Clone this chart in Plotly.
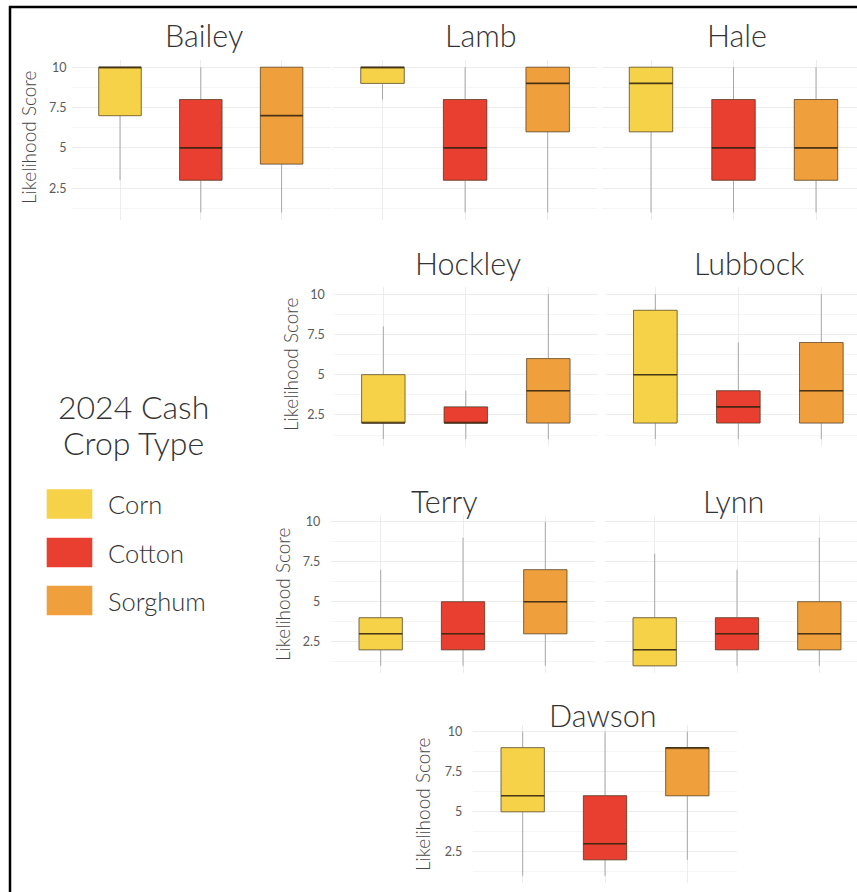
import plotly.graph_objects as go

# ---- data: likelihood score summaries per county and cash crop ----
counties = ["Bailey", "Lamb", "Hale", "Hockley", "Lubbock", "Terry", "Lynn", "Dawson"]
crops = ["Corn", "Cotton", "Sorghum"]

corn_low = [3, 8, 1, 1, 1, 1, 1, 1]
corn_q1 = [7, 9, 6, 2, 2, 2, 1, 5]
corn_med = [10, 10, 9, 2, 5, 3, 2, 6]
corn_q3 = [10, 10, 10, 5, 9, 4, 4, 9]
corn_high = [10, 10, 10, 8, 10, 7, 8, 10]

cotton_low = [1, 1, 1, 1, 1, 1, 1, 1]
cotton_q1 = [3, 3, 3, 2, 2, 2, 2, 2]
cotton_med = [5, 5, 5, 2, 3, 3, 3, 3]
cotton_q3 = [8, 8, 8, 3, 4, 5, 4, 6]
cotton_high = [10, 10, 10, 4, 7, 9, 7, 10]

sorghum_low = [1, 1, 1, 1, 1, 1, 1, 2]
sorghum_q1 = [4, 6, 3, 2, 2, 3, 2, 6]
sorghum_med = [7, 9, 5, 4, 4, 5, 3, 9]
sorghum_q3 = [10, 10, 8, 6, 7, 7, 5, 9]
sorghum_high = [10, 10, 10, 10, 10, 10, 9, 10]

y_tick_vals = [2.5, 5, 7.5, 10]
y_tick_text = ["2.5", "5", "7.5", "10"]
y_title = "Likelihood Score"
legend_title = ["2024 Cash", "Crop Type"]

stats = {
    "Corn": (corn_low, corn_q1, corn_med, corn_q3, corn_high),
    "Cotton": (cotton_low, cotton_q1, cotton_med, cotton_q3, cotton_high),
    "Sorghum": (sorghum_low, sorghum_q1, sorghum_med, sorghum_q3, sorghum_high),
}

# ---- styling ----
W, H = 857, 892
FONT = "Lato"
TEXT = "#333333"
fill = {"Corn": "#F5D248", "Cotton": "#E83F30", "Sorghum": "#EFA03C"}
WHISKER = "#a8a8a8"
OUTLINE = "rgba(70,50,20,0.55)"
MEDIAN = "rgba(50,35,15,0.8)"
GRID = "#ececec"
GRID_MINOR = "#f5f5f5"
Y_RANGE = [0.55, 10.45]

# panel geometry in pixels: first-category centre, category spacing, top, bottom
panel_geo = {
    "Bailey": (120.0, 80.8, 60.0, 219.7),
    "Lamb": (382.5, 82.6, 60.0, 219.7),
    "Hale": (651.0, 82.5, 60.0, 219.7),
    "Hockley": (383.3, 82.5, 287.0, 446.3),
    "Lubbock": (655.3, 83.0, 287.0, 446.3),
    "Terry": (380.7, 82.3, 514.5, 673.0),
    "Lynn": (654.7, 82.3, 514.5, 673.0),
    "Dawson": (522.7, 82.3, 724.5, 883.0),
}
title_pos = {
    "Bailey": (204, 35), "Lamb": (481, 35), "Hale": (737, 35),
    "Hockley": (468, 263), "Lubbock": (749, 263),
    "Terry": (444, 501), "Lynn": (733, 501), "Dawson": (602, 715),
}
# panels that carry the y axis labels, with axis-title position and label gap
labelled = {
    "Bailey": (28, 138, 4),
    "Hockley": (290, 365, 8),
    "Terry": (282, 595, 10),
    "Dawson": (422, 805, 10),
}


def px_x(p):
    return p / W


def px_y(p):
    return 1 - p / H


fig = go.Figure()
layout_axes = {}

for i, county in enumerate(counties):
    n = i + 1
    xa = "x" if n == 1 else f"x{n}"
    ya = "y" if n == 1 else f"y{n}"
    c0, sp, top, bot = panel_geo[county]
    left = c0 - 0.6 * sp
    right = c0 + 2.6 * sp
    r_hi = 2.6
    if right > W:
        r_hi = (W - c0) / sp
        right = W

    for crop in crops:
        lo, q1, med, q3, hi = (s[i] for s in stats[crop])
        common = dict(x=[crop], xaxis=xa, yaxis=ya, showlegend=False,
                      boxpoints=False, whiskerwidth=0, hoverinfo="skip")
        # whiskers
        fig.add_trace(go.Box(q1=[q1], median=[med], q3=[q3], lowerfence=[lo],
                             upperfence=[hi], fillcolor=fill[crop],
                             line=dict(color=WHISKER, width=1), **common))
        # box body with darker outline
        fig.add_trace(go.Box(q1=[q1], median=[med], q3=[q3], lowerfence=[q1],
                             upperfence=[q3], fillcolor=fill[crop],
                             line=dict(color=OUTLINE, width=1), **common))
        # median bar
        fig.add_trace(go.Box(q1=[med], median=[med], q3=[med], lowerfence=[med],
                             upperfence=[med], fillcolor="rgba(0,0,0,0)",
                             line=dict(color=MEDIAN, width=1.6), **common))

    key_x = "xaxis" if n == 1 else f"xaxis{n}"
    key_y = "yaxis" if n == 1 else f"yaxis{n}"
    layout_axes[key_x] = dict(
        domain=[px_x(left), px_x(right)], anchor=ya, type="category",
        categoryorder="array", categoryarray=crops, range=[-0.6, r_hi],
        showticklabels=False, showgrid=True, gridcolor=GRID, gridwidth=1,
        zeroline=False, showline=False, ticks="",
    )
    show_lab = county in labelled
    layout_axes[key_y] = dict(
        domain=[px_y(bot), px_y(top)], anchor=xa, range=Y_RANGE,
        tickvals=y_tick_vals, ticktext=y_tick_text, showticklabels=show_lab,
        ticklabelstandoff=labelled[county][2] if show_lab else 0,
        tickfont=dict(family=FONT, size=12.5, color="#5a5a5a"),
        showgrid=True, gridcolor=GRID, gridwidth=1, zeroline=False,
        showline=False, ticks="",
        minor=dict(tick0=1.25, dtick=2.5, showgrid=True, gridcolor=GRID_MINOR,
                   gridwidth=1),
    )

annotations = []
for county in counties:
    tx, ty = title_pos[county]
    annotations.append(dict(text=county, x=px_x(tx), y=px_y(ty), xref="paper",
                            yref="paper", xanchor="center", yanchor="middle",
                            showarrow=False,
                            font=dict(family=FONT, size=30.5, color=TEXT,
                                      weight=300)))
for county, (ax, ay, _) in labelled.items():
    annotations.append(dict(text=y_title, x=px_x(ax), y=px_y(ay), xref="paper",
                            yref="paper", xanchor="center", yanchor="middle",
                            textangle=-90, showarrow=False,
                            font=dict(family=FONT, size=19, color="#474747",
                                      weight=300)))

# legend block
annotations.append(dict(text=legend_title[0], x=px_x(133), y=px_y(406),
                        xref="paper", yref="paper", xanchor="center",
                        yanchor="middle", showarrow=False,
                        font=dict(family=FONT, size=32, color=TEXT, weight=300)))
annotations.append(dict(text=legend_title[1], x=px_x(133), y=px_y(442),
                        xref="paper", yref="paper", xanchor="center",
                        yanchor="middle", showarrow=False,
                        font=dict(family=FONT, size=32, color=TEXT, weight=300)))

shapes = []
sw_top = [489.3, 537.7, 585.7]
for crop, t in zip(crops, sw_top):
    shapes.append(dict(type="rect", xref="paper", yref="paper",
                       x0=px_x(46.7), x1=px_x(92.3), y0=px_y(t + 29.5),
                       y1=px_y(t), fillcolor=fill[crop], line=dict(width=0)))
    annotations.append(dict(text=crop, x=px_x(106), y=px_y(t + 15),
                            xref="paper", yref="paper", xanchor="left",
                            yanchor="middle", showarrow=False,
                            font=dict(family=FONT, size=25.5, color=TEXT,
                                      weight=300)))

# frame lines along the top and left edges
shapes.append(dict(type="line", xref="paper", yref="paper", x0=px_x(9),
                   x1=1, y0=px_y(7), y1=px_y(7),
                   line=dict(color="black", width=2.5)))
shapes.append(dict(type="line", xref="paper", yref="paper", x0=px_x(10),
                   x1=px_x(10), y0=0, y1=px_y(6),
                   line=dict(color="black", width=2.5)))

fig.update_layout(
    width=W, height=H, margin=dict(l=0, r=0, t=0, b=0),
    paper_bgcolor="white", plot_bgcolor="white",
    boxmode="overlay", boxgap=0.25, showlegend=False,
    annotations=annotations, shapes=shapes, **layout_axes,
)

fig.write_html("out.html")
